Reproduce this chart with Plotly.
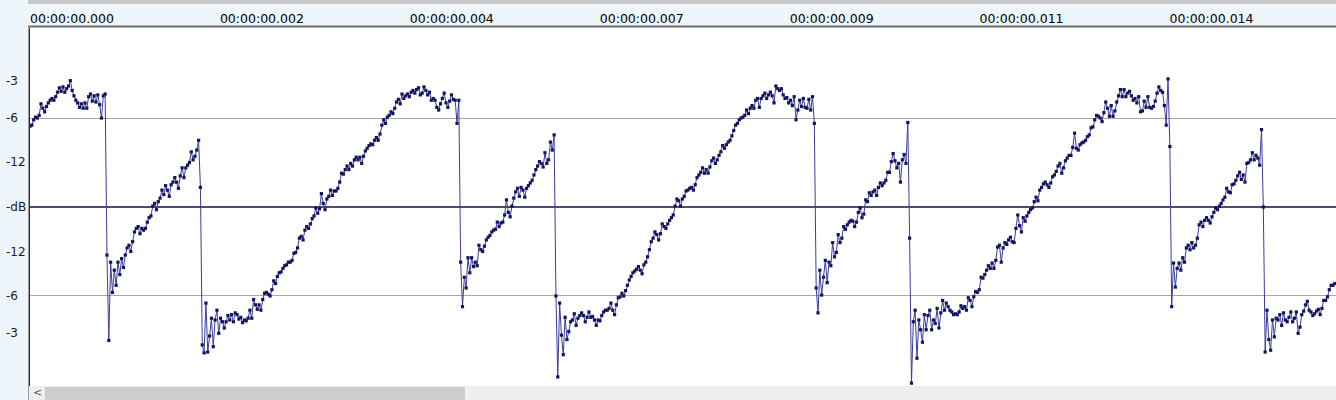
import plotly.graph_objects as go

# ---- data (amplitude, linear -1..1), one value per sample ----
sample_rate = 44100

seg_a = [.455, .46, .49, .505, .50, .515, .58, .555, .535, .565, .585, .60, .61, .60, .62, .645, .67, .65,
         .675, .645, .665, .68, .71, .655, .625, .60, .585, .56, .58, .555, .585, .555, .62, .635, .595,
         .625, .59, .63, .575, .50, .625, .635]
seg_b = [-.27, -.75, -.31, -.48, -.355, -.44, -.31, -.38, -.29, -.34,
         -.27, -.23, -.215, -.25, -.195, -.14, -.12, -.11, -.15, -.12, -.13, -.12, -.085, -.06, -.05, .005,
         .02, -.015, .03, .05, .095, .07, .12, .095, .06, .125, .14, .165, .14, .105, .175, .22, .165, .22,
         .235, .25, .31, .265, .285, .32, .375, .11]
seg_c = [-.775, -.82, -.54, -.815, -.725, -.625, -.785, -.635, -.58, -.71, -.625, -.645, -.68, -.645, -.61,
         -.635, -.605, -.645, -.595, -.605, -.63, -.62, -.65, -.635, -.64, -.625, -.58, -.625, -.52, -.55,
         -.575, -.55, -.58, -.52, -.485, -.48, -.49, -.50, -.465, -.415, -.43, -.39, -.37, -.365, -.345,
         -.33, -.325, -.31, -.31, -.30]
seg_d = [-.26, -.255, -.23, -.175, -.165, -.185, -.13, -.11, -.12, -.095, -.065, -.05, -.005, -.035, -.01,
         .075, .02, -.015, .045, .06, .095, .065, .09, .09, .105, .14, .19, .185, .21, .23, .21, .245, .23,
         .265, .28, .265, .28, .245, .285, .315, .33, .345, .355, .35, .375, .39, .375, .41, .46, .49, .47,
         .505, .515, .535, .525, .555, .59, .605, .58, .635, .61, .625, .635, .62, .645, .655, .64, .66, .67,
         .63, .64, .675, .655, .63, .645, .60, .61, .60, .56, .545, .58, .61, .64, .585, .56, .595, .63,
         .605, .60, .47, .60]
seg_f = [-.31, -.56, -.395, -.455, -.285, -.37, -.285, -.335, -.31, -.33, -.215, -.24, -.25, -.22, -.185,
         -.17, -.16, -.14, -.13, -.125, -.085, -.11, -.09, -.085, -.045, .04, -.03, -.055, .005, .05, .085,
         .105, .06, .11, .095, .055, .105, .12, .135, .15, .18, .21, .23, .255, .245, .225, .305, .245, .265,
         .365, .32, .405, -.50]
seg_g = [-.955, -.54, -.72, -.83, -.62, -.745, -.70, -.645, -.635, -.60, -.665, -.625, -.61, -.595, -.61,
         -.645, -.62, -.59, -.62, -.615, -.635, -.665, -.635, -.64, -.61, -.59, -.58, -.58, -.57, -.54,
         -.58, -.605, -.55, -.51, -.505, -.485, -.50, -.47, -.44, -.41, -.39, -.37, -.36, -.35, -.335,
         -.355, -.375, -.325, -.31]
seg_h = [-.28, -.24, -.195, -.175, -.14, -.155, -.185, -.15, -.095, -.11, -.12, -.095, -.075, -.06, -.045,
         .005, .045, .035, .005, .045, .06, .09, .095, .105, .11, .095, .125, .165, .18, .195, .22, .19, .21,
         .19, .225, .26, .275, .245, .265, .29, .31, .345, .33, .35, .365, .375, .40, .43, .46, .47, .49,
         .50, .505, .515, .545, .525, .555, .57, .555, .60, .61, .56, .61, .625, .64, .61, .63, .645, .625,
         .585, .68, .665, .655, .665, .63, .61, .615, .585, .60, .57, .62, .49, .545, .60, .565, .61, .56,
         .555, .605, .545, .62, .47]
seg_i = [-.455, -.595, -.355, -.495, -.395, -.30, -.425, -.31, -.33, -.20, -.28, -.255, -.155, -.20, -.175,
         -.11, -.125, -.10, -.085, -.075, -.08, -.11, -.085, -.03, -.005, -.06, -.04, .04, .03, .08, .065,
         .085, .095, .065, .11, .135, .12, .135, .15, .195, .195, .255, .30, .26, .22, .245, .14, .265, .295,
         .245, .475, -.175, -.99]
seg_j = [-.645, -.58, -.85, -.635, -.69, -.76, -.605, -.69, -.61, -.58, -.69, -.635, -.655, -.57, -.68,
         -.595, -.525, -.58, -.54, -.56, -.58, -.59, -.605, -.60, -.605, -.59, -.555, -.57, -.56, -.58,
         -.51, -.525, -.56, -.505, -.475, -.48, -.465, -.395, -.40, -.38, -.355, -.33, -.345, -.315, -.345,
         -.30]
seg_k = [-.225, -.215, -.31, -.23, -.20, -.21, -.185, -.17, -.195, -.20, -.12, -.045, -.105, -.14, -.06,
         -.08, -.05, -.03, -.015, -.005, .03, .055, .035, .095, .11, .13, .14, .125, .11, .135, .17, .18,
         .20, .23, .245, .19, .22, .26, .275, .29, .29, .335, .415, .33, .32, .35, .36, .365, .375, .395,
         .405, .445, .45, .49, .515, .51, .50, .48, .53, .59, .555, .51, .57, .51, .54, .59, .625, .66, .62,
         .66, .62, .64, .65, .625, .60, .61, .585, .62, .535, .54, .595, .56, .62, .56, .555, .565, .595,
         .64, .675, .655, .645, .57, .46, .72]
seg_l = [.34, -.56, -.315, -.45, -.345, -.315, -.355, -.285, -.31, -.23, -.215, -.24, -.20, -.23, -.215,
         -.175, -.10, -.085, -.11, -.075, -.06, -.075, -.09, -.055, -.03, -.005, -.015, .005, .02, .04, .055,
         .105, .085, .08, .125, .13, .15, .175, .195, .155, .18, .14, .245, .25, .265, .305, .265, .29, .275,
         .235, .435, 0.0]
seg_m = [-.815, -.58, -.745, -.805, -.635, -.73, -.625, -.635, -.605, -.665, -.595, -.635, -.645, -.62,
         -.59, -.645, -.625, -.59, -.71, -.675, -.605, -.585, -.55, -.53, -.58, -.59, -.61, -.60, -.585,
         -.575, -.605, -.57, -.525, -.525, -.505, -.465, -.44, -.44, -.43]

time_tick_ms = [0, 2.35, 4.70, 7.05, 9.40, 11.75, 14.10]
time_tick_text = ["00:00:00.000", "00:00:00.002", "00:00:00.004", "00:00:00.007",
                  "00:00:00.009", "00:00:00.011", "00:00:00.014"]
level_tick_vals = [0.708, 0.5, 0.251, 0.0, -0.251, -0.5, -0.708]
level_tick_text = ["-3", "-6", "-12", "-dB", "-12", "-6", "-3"]

amplitude = (seg_a + seg_b + seg_c + seg_d + seg_f + seg_g + seg_h + seg_i +
             seg_j + seg_k + seg_l + seg_m)
time_ms = [i * 1000.0 / sample_rate for i in range(len(amplitude))]

# ---- geometry ----
W, H = 1336, 400
ML, MR, MT, MB = 30, 0, 28, 14
PW, PH = W - ML - MR, H - MT - MB


def px_x(px):  # paper x from absolute pixel
    return (px - ML) / PW


def px_y(py):  # paper y from absolute pixel (top=0)
    return (H - MB - py) / PH


FONT = "DejaVu Sans"

fig = go.Figure()
fig.add_trace(go.Scatter(
    x=time_ms, y=amplitude, mode="lines+markers",
    line=dict(color="#3c3ca0", width=1),
    marker=dict(color="#14145e", size=3.2, symbol="square"),
    hoverinfo="skip", showlegend=False,
))

shapes = [
    # top grey strip
    dict(type="rect", xref="paper", yref="paper", x0=px_x(28), x1=1, y0=px_y(4), y1=px_y(0),
         fillcolor="#c8c8c8", line=dict(width=0), layer="above"),
    # header bottom border
    dict(type="line", xref="paper", yref="paper", x0=px_x(28), x1=1, y0=px_y(26.5), y1=px_y(26.5),
         line=dict(color="#6e6e6e", width=2), layer="above"),
    # vertical separator
    dict(type="line", xref="paper", yref="paper", x0=px_x(28.5), x1=px_x(28.5), y0=px_y(400), y1=px_y(27),
         line=dict(color="#9a9a9a", width=1), layer="above"),
    # scrollbar background
    dict(type="rect", xref="paper", yref="paper", x0=px_x(29), x1=1, y0=px_y(400), y1=px_y(386),
         fillcolor="#efefef", line=dict(width=0), layer="above"),
    # scrollbar thumb
    dict(type="rect", xref="paper", yref="paper", x0=px_x(45), x1=px_x(465), y0=px_y(400), y1=px_y(387),
         fillcolor="#cdcdcd", line=dict(width=0), layer="above"),
]

annotations = [
    dict(text=t, x=px_x(4), y=v, xref="paper", yref="y", xanchor="left", yanchor="middle",
         showarrow=False, font=dict(family=FONT, size=12, color="#1a1a1a"))
    for v, t in zip(level_tick_vals, level_tick_text)
]
annotations.append(dict(text="<", x=px_x(37), y=px_y(392.5), xref="paper", yref="paper",
                        xanchor="center", yanchor="middle", showarrow=False,
                        font=dict(family=FONT, size=11, color="#555555")))

fig.update_layout(
    width=W, height=H,
    margin=dict(l=ML, r=MR, t=MT, b=MB, pad=0, autoexpand=False),
    paper_bgcolor="#eef6fb", plot_bgcolor="#ffffff",
    shapes=shapes, annotations=annotations,
    xaxis=dict(range=[0, 16.16], side="top", tickvals=time_tick_ms, ticktext=time_tick_text,
               ticklabelposition="outside right", ticks="", showgrid=False, zeroline=False,
               showline=False, tickfont=dict(family=FONT, size=12.5, color="#000000"),
               ticklabelstandoff=2, automargin=False, fixedrange=True),
    yaxis=dict(range=[-1.006, 1.006], tickvals=[-0.5, 0.5], showticklabels=False, ticks="",
               showgrid=True, gridcolor="#a8a8a8", gridwidth=1,
               zeroline=True, zerolinecolor="#4e4e72", zerolinewidth=2,
               showline=True, linecolor="#1616d0", linewidth=2, automargin=False, fixedrange=True),
    showlegend=False,
)

fig.write_html("out.html", config={"displayModeBar": False, "staticPlot": True},
               post_script="document.body.style.margin='0';document.body.style.overflow='hidden';")
